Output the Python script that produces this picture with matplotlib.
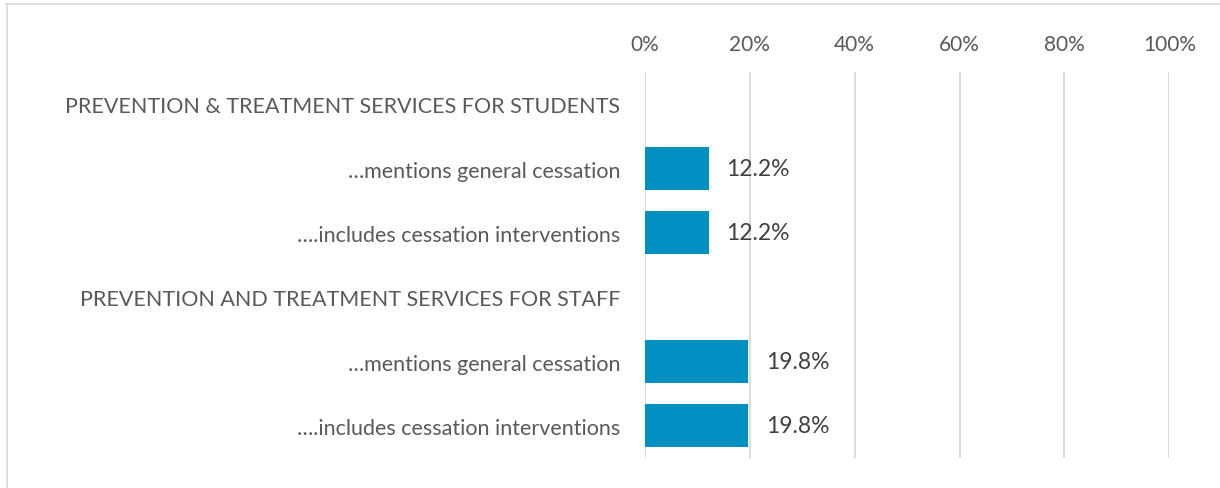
import matplotlib
matplotlib.use("Agg")
import matplotlib.pyplot as plt
from matplotlib.lines import Line2D
from matplotlib.ticker import FuncFormatter

categories = [
    "PREVENTION & TREATMENT SERVICES FOR STUDENTS",
    "\u2026mentions general cessation",
    "\u2026.includes cessation interventions",
    "PREVENTION AND TREATMENT SERVICES FOR STAFF",
    "\u2026mentions general cessation",
    "\u2026.includes cessation interventions",
]
values = [None, 12.2, 12.2, None, 19.8, 19.8]
xticks = [0, 20, 40, 60, 80, 100]

plt.rcParams['font.family'] = ['Lato', 'DejaVu Sans']

fig = plt.figure(figsize=(12.2, 4.89), dpi=100)
ax = fig.add_axes([0.5283, 0.0613, 0.4303, 0.7894])

ypos = list(range(len(categories)))
for y, v in zip(ypos, values):
    if v is not None:
        ax.barh(y, v, height=0.67, color="#0091C2", zorder=3)
        ax.text(v + 3.4, y, f"{v:.1f}%", va="center", ha="left",
                fontsize=16.5, color="#404040", zorder=4)

ax.set_xlim(0, 100)
ax.set_ylim(len(categories) - 0.5, -0.5)
ax.set_xticks(xticks)
ax.xaxis.set_major_formatter(FuncFormatter(lambda x, p: f"{int(x)}%"))
ax.xaxis.tick_top()
ax.tick_params(axis='x', length=0, pad=13, labelsize=15, labelcolor="#595959")
ax.set_yticks(ypos)
ax.set_yticklabels(categories)
ax.tick_params(axis='y', length=0, pad=17.5, labelsize=15.5, labelcolor="#595959")
ax.grid(axis='x', color="#D9D9D9", linewidth=1.3, zorder=0)
for s in ax.spines.values():
    s.set_visible(False)

# outer chart-area frame (partly visible)
fig.add_artist(Line2D([6/1220, 1.0], [1 - 4.5/489, 1 - 4.5/489], transform=fig.transFigure,
                      color="#D9D9D9", linewidth=1.2))
fig.add_artist(Line2D([6.5/1220, 6.5/1220], [0, 1 - 4.5/489], transform=fig.transFigure,
                      color="#D9D9D9", linewidth=1.2))

fig.savefig("out.png", dpi=100)
